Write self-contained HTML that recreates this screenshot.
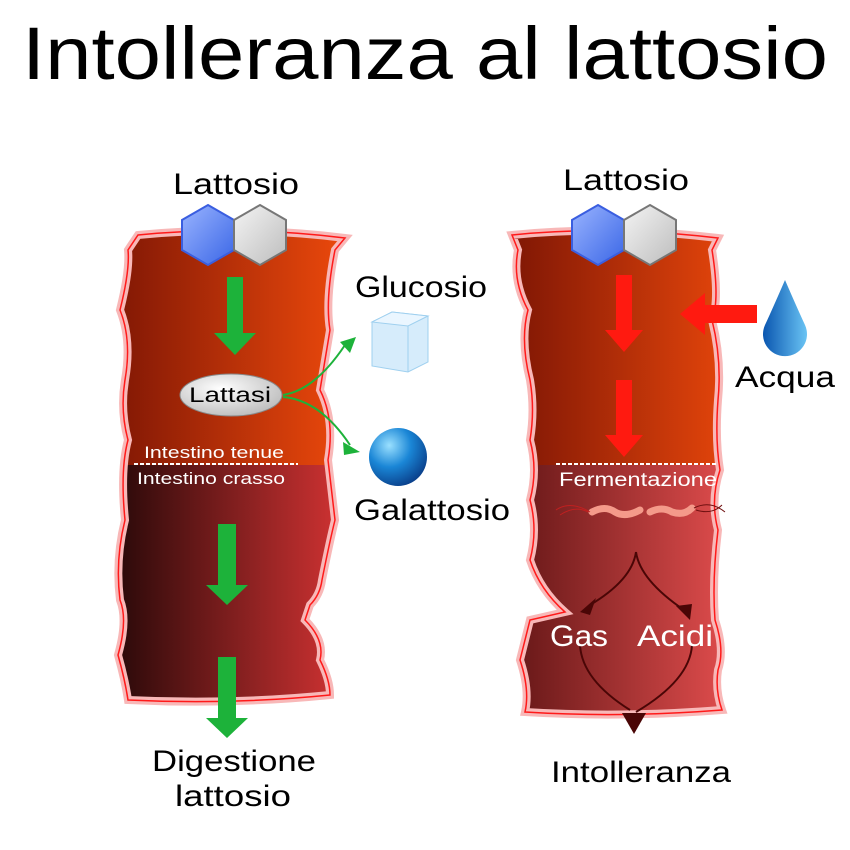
<!DOCTYPE html>
<html><head><meta charset="utf-8"><style>
html,body{margin:0;padding:0;background:#fff;}
svg{display:block;font-family:"Liberation Sans",sans-serif;}
</style></head><body>
<svg width="850" height="850" viewBox="0 0 850 850" xmlns="http://www.w3.org/2000/svg">
<defs>
<linearGradient id="up" x1="0" x2="1"><stop offset="0" stop-color="#7a1404"/><stop offset="1" stop-color="#ee4a0c"/></linearGradient>
<linearGradient id="lowL" x1="0" x2="1"><stop offset="0" stop-color="#1e0606"/><stop offset="1" stop-color="#d63434"/></linearGradient>
<linearGradient id="lowR" x1="0" x2="1"><stop offset="0" stop-color="#5e1414"/><stop offset="1" stop-color="#ec5252"/></linearGradient>
<linearGradient id="blue" x1="0" y1="0" x2="1" y2="1"><stop offset="0" stop-color="#9ab4ff"/><stop offset="1" stop-color="#3a66e6"/></linearGradient>
<linearGradient id="grey" x1="0" y1="0" x2="1" y2="1"><stop offset="0" stop-color="#f4f4f4"/><stop offset="1" stop-color="#bdbdbd"/></linearGradient>
<radialGradient id="ball" cx="0.35" cy="0.3" r="0.75"><stop offset="0" stop-color="#9ae0ff"/><stop offset="0.5" stop-color="#1a86d6"/><stop offset="1" stop-color="#0a3f8a"/></radialGradient>
<linearGradient id="drop" x1="0" x2="1"><stop offset="0" stop-color="#0a56b0"/><stop offset="1" stop-color="#6ac4f4"/></linearGradient>
<radialGradient id="ell" cx="0.4" cy="0.35" r="0.7"><stop offset="0" stop-color="#fff"/><stop offset="1" stop-color="#bbb"/></radialGradient>
<clipPath id="cl"><path d="M138,235 Q240,225 345,238 L335,250 Q325,300 330,330 Q325,360 320,390 Q335,420 328,460 L335,520 Q330,540 322,580 Q320,595 310,605 L305,620 Q325,640 320,660 Q330,680 330,695 Q230,705 128,700 Q125,680 118,655 Q128,620 120,600 Q115,560 125,520 Q120,470 128,440 Q120,410 125,380 Q132,340 120,310 Q130,270 128,250 Z"/></clipPath>
<clipPath id="cr"><path d="M512,235 Q610,225 718,238 L712,250 Q720,300 712,320 Q722,360 718,400 Q715,440 720,470 Q710,500 718,530 Q712,580 715,620 Q725,650 718,670 Q715,690 722,710 Q620,718 525,712 Q530,690 520,660 Q525,640 530,620 L565,612 Q540,590 530,560 Q538,530 530,500 Q538,470 530,440 Q535,410 530,380 Q520,340 528,310 Q512,280 518,250 Z"/></clipPath>
</defs>
<text x="425" y="79" text-anchor="middle" font-size="74" textLength="806" lengthAdjust="spacingAndGlyphs" fill="#000">Intolleranza al lattosio</text>

<!-- LEFT tube -->
<g clip-path="url(#cl)">
<rect x="100" y="220" width="250" height="245" fill="url(#up)"/>
<rect x="100" y="465" width="250" height="250" fill="url(#lowL)"/>
</g>
<path d="M138,235 Q240,225 345,238 L335,250 Q325,300 330,330 Q325,360 320,390 Q335,420 328,460 L335,520 Q330,540 322,580 Q320,595 310,605 L305,620 Q325,640 320,660 Q330,680 330,695 Q230,705 128,700 Q125,680 118,655 Q128,620 120,600 Q115,560 125,520 Q120,470 128,440 Q120,410 125,380 Q132,340 120,310 Q130,270 128,250 Z" fill="none" stroke="#f8b8b8" stroke-width="8"/>
<path d="M138,235 Q240,225 345,238 L335,250 Q325,300 330,330 Q325,360 320,390 Q335,420 328,460 L335,520 Q330,540 322,580 Q320,595 310,605 L305,620 Q325,640 320,660 Q330,680 330,695 Q230,705 128,700 Q125,680 118,655 Q128,620 120,600 Q115,560 125,520 Q120,470 128,440 Q120,410 125,380 Q132,340 120,310 Q130,270 128,250 Z" fill="none" stroke="#ff1a1a" stroke-width="1.5"/>
<line x1="134" y1="464" x2="298" y2="464" stroke="#fff" stroke-width="2" stroke-dasharray="4,2"/>
<text x="214" y="458" text-anchor="middle" font-size="17" textLength="140" lengthAdjust="spacingAndGlyphs" fill="#fff">Intestino tenue</text>
<text x="211" y="484" text-anchor="middle" font-size="17" textLength="148" lengthAdjust="spacingAndGlyphs" fill="#fff">Intestino crasso</text>

<!-- RIGHT tube -->
<g clip-path="url(#cr)">
<rect x="500" y="220" width="250" height="245" fill="url(#up)"/>
<rect x="500" y="465" width="250" height="260" fill="url(#lowR)"/>
</g>
<path d="M512,235 Q610,225 718,238 L712,250 Q720,300 712,320 Q722,360 718,400 Q715,440 720,470 Q710,500 718,530 Q712,580 715,620 Q725,650 718,670 Q715,690 722,710 Q620,718 525,712 Q530,690 520,660 Q525,640 530,620 L565,612 Q540,590 530,560 Q538,530 530,500 Q538,470 530,440 Q535,410 530,380 Q520,340 528,310 Q512,280 518,250 Z" fill="none" stroke="#f8b8b8" stroke-width="8"/>
<path d="M512,235 Q610,225 718,238 L712,250 Q720,300 712,320 Q722,360 718,400 Q715,440 720,470 Q710,500 718,530 Q712,580 715,620 Q725,650 718,670 Q715,690 722,710 Q620,718 525,712 Q530,690 520,660 Q525,640 530,620 L565,612 Q540,590 530,560 Q538,530 530,500 Q538,470 530,440 Q535,410 530,380 Q520,340 528,310 Q512,280 518,250 Z" fill="none" stroke="#ff1a1a" stroke-width="1.5"/>
<line x1="556" y1="464" x2="718" y2="464" stroke="#fff" stroke-width="2" stroke-dasharray="4,2"/>
<text x="638" y="486" text-anchor="middle" font-size="19" textLength="158" lengthAdjust="spacingAndGlyphs" fill="#fff">Fermentazione</text>
<!-- bacteria -->
<path d="M592,512 Q605,505 615,512 Q625,518 640,510" stroke="#f49a8a" stroke-width="7" fill="none" stroke-linecap="round"/>
<path d="M650,512 Q662,506 672,512 Q684,516 692,508" stroke="#f49a8a" stroke-width="7" fill="none" stroke-linecap="round"/>
<path d="M556,510 Q570,500 590,512 M560,515 Q575,505 588,512" stroke="#c02020" stroke-width="1" fill="none"/>
<path d="M694,508 Q710,500 725,512 M696,510 Q712,515 722,505" stroke="#701010" stroke-width="1" fill="none"/>

<!-- hexagons (pointy top) -->
<g stroke-width="2">
<polygon points="208,205 234,220 234,250 208,265 182,250 182,220" fill="url(#blue)" stroke="#3a5ee0"/>
<polygon points="260,205 286,220 286,250 260,265 234,250 234,220" fill="url(#grey)" stroke="#777"/>
<polygon points="598,205 624,220 624,250 598,265 572,250 572,220" fill="url(#blue)" stroke="#3a5ee0"/>
<polygon points="650,205 676,220 676,250 650,265 624,250 624,220" fill="url(#grey)" stroke="#777"/>
</g>
<g font-size="30" lengthAdjust="spacingAndGlyphs" fill="#000" text-anchor="middle">
<text x="236" y="194" textLength="126" lengthAdjust="spacingAndGlyphs">Lattosio</text>
<text x="626" y="190" textLength="126" lengthAdjust="spacingAndGlyphs">Lattosio</text>
<text x="421" y="297" textLength="132" lengthAdjust="spacingAndGlyphs">Glucosio</text>
<text x="432" y="520" textLength="156" lengthAdjust="spacingAndGlyphs">Galattosio</text>
<text x="234" y="771" textLength="164" lengthAdjust="spacingAndGlyphs">Digestione</text>
<text x="233" y="806" textLength="116" lengthAdjust="spacingAndGlyphs">lattosio</text>
<text x="785" y="387" textLength="100" lengthAdjust="spacingAndGlyphs">Acqua</text>
<text x="641" y="782" textLength="180" lengthAdjust="spacingAndGlyphs">Intolleranza</text>
</g>

<!-- green arrows -->
<g fill="#1db23a">
<polygon points="227,277 243,277 243,333 256,333 235,355 214,333 227,333"/>
<polygon points="218,524 236,524 236,585 248,585 227,605 206,585 218,585"/>
<polygon points="218,657 236,657 236,718 248,718 227,738 206,718 218,718"/>
</g>
<!-- Lattasi -->
<ellipse cx="231" cy="395" rx="51" ry="21" fill="url(#ell)" stroke="#888"/>
<text x="230" y="402" text-anchor="middle" font-size="21" textLength="82" lengthAdjust="spacingAndGlyphs" fill="#000">Lattasi</text>
<path d="M283,395 Q315,390 345,345" stroke="#1db23a" stroke-width="2" fill="none"/>
<polygon points="340,342 356,337 350,353" fill="#1db23a"/>
<path d="M283,397 Q320,400 350,445" stroke="#1db23a" stroke-width="2" fill="none"/>
<polygon points="343,442 360,452 344,455" fill="#1db23a"/>
<!-- ice cube -->
<polygon points="372,322 392,312 428,316 428,362 408,372 372,366" fill="#d6ecfb" stroke="#9fd0ef"/>
<polygon points="372,322 392,312 428,316 408,326" fill="#eaf6ff" stroke="#9fd0ef"/>
<line x1="408" y1="326" x2="408" y2="372" stroke="#9fd0ef"/>
<circle cx="398" cy="457" r="29" fill="url(#ball)"/>

<!-- red arrows -->
<g fill="#ff1a10">
<polygon points="616,275 632,275 632,330 643,330 624,352 605,330 616,330"/>
<polygon points="616,380 632,380 632,435 643,435 624,457 605,435 616,435"/>
<polygon points="757,305 757,323 705,323 705,335 680,314 705,293 705,305"/>
</g>
<path d="M785,280 Q772,310 765,325 A22,22 0 1 0 805,325 Q798,310 785,280 Z" fill="url(#drop)"/>

<!-- fermentation arrows -->
<g stroke="#4a0606" stroke-width="2" fill="none">
<path d="M636,552 Q632,580 590,605"/>
<path d="M636,552 Q640,580 684,610"/>
<path d="M580,645 Q582,680 630,710"/>
<path d="M692,645 Q690,680 636,712"/>
</g>
<g fill="#4a0606">
<polygon points="580,612 596,598 590,615"/>
<polygon points="690,620 676,606 692,604"/>
<polygon points="622,713 634,734 646,713"/>
</g>
<text x="579" y="646" text-anchor="middle" font-size="30" textLength="58" lengthAdjust="spacingAndGlyphs" fill="#fff">Gas</text>
<text x="675" y="646" text-anchor="middle" font-size="30" textLength="76" lengthAdjust="spacingAndGlyphs" fill="#fff">Acidi</text>
</svg>
</body></html>
